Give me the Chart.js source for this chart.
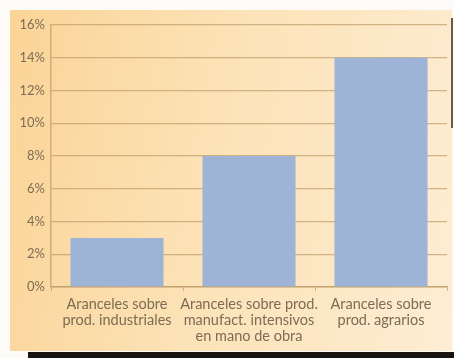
<!DOCTYPE html>
<html>
<head>
<meta charset="utf-8">
<script src="https://cdn.jsdelivr.net/npm/chart.js@4.4.1/dist/chart.umd.min.js"></script>
<style>
  html, body { margin: 0; padding: 0; background: #fdfbf7; }
  #wrap { position: relative; width: 454px; height: 358px; overflow: hidden; }
  #panel {
    position: absolute; left: 10px; top: 10px; width: 442px; height: 341px;
    background: linear-gradient(100deg, #fbd497 0%, #fce2b6 45%, #fdedd3 100%);
  }
  #edge { position: absolute; left: 451px; top: 18px; width: 2px; height: 110px; background: #6a5a48; }
  #shadow { position: absolute; left: 28px; top: 352px; width: 426px; height: 6px; background: #1a1410; }
  canvas { position: absolute; left: 0; top: 0; }
</style>
</head>
<body>
<div id="wrap">
  <div id="panel"></div>
  <div id="edge"></div>
  <div id="shadow"></div>
  <canvas id="grafico" width="454" height="358"></canvas>
</div>
<script>
// categorias y valores (%)
const categorias = [
  ["Aranceles sobre", "prod. industriales"],
  ["Aranceles sobre prod.", "manufact. intensivos", "en mano de obra"],
  ["Aranceles sobre", "prod. agrarios"]
];
const aranceles = [3, 8, 14];
const ticksY = [0, 2, 4, 6, 8, 10, 12, 14, 16];

const textColor = "#7d6c54";
const gridColor = "rgba(190, 155, 105, 0.7)";

const ctx = document.getElementById("grafico").getContext("2d");
new Chart(ctx, {
  type: "bar",
  data: {
    labels: categorias,
    datasets: [{
      data: aranceles,
      backgroundColor: "#9db4d6",
      borderWidth: 0,
      barPercentage: 0.705,
      categoryPercentage: 1
    }]
  },
  options: {
    responsive: false,
    animation: false,
    layout: { padding: { left: 10, right: 7, top: 25, bottom: 13 } },
    plugins: { legend: { display: false }, tooltip: { enabled: false } },
    scales: {
      x: {
        grid: { display: true, drawOnChartArea: false, tickLength: 4, color: gridColor },
        border: { color: gridColor, width: 1.5 },
        ticks: {
          color: textColor,
          font: { family: "Lato", size: 14.5, lineHeight: 1.1 },
          padding: 5,
          maxRotation: 0,
          autoSkip: false
        },
        afterFit: (scale) => { scale.height = 58; }
      },
      y: {
        min: 0,
        max: 16,
        afterBuildTicks: (scale) => { scale.ticks = ticksY.map(v => ({ value: v })); },
        grid: { color: gridColor, lineWidth: 1.2, drawTicks: false },
        border: { color: gridColor, width: 1.5 },
        ticks: {
          color: textColor,
          font: { family: "Lato", size: 13 },
          padding: 6,
          callback: (v) => v + "%"
        },
        afterFit: (scale) => { scale.width = 41; }
      }
    }
  }
});
</script>
</body>
</html>
